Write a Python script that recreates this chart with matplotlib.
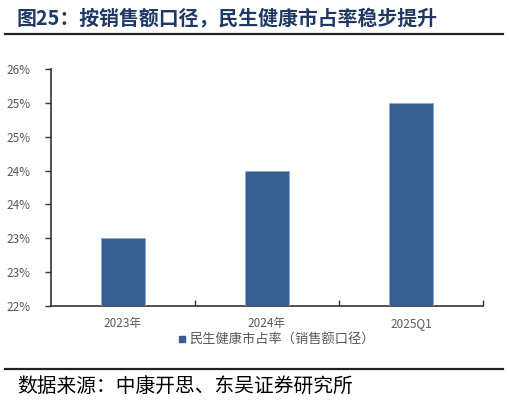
import matplotlib
matplotlib.use('Agg')
import matplotlib.pyplot as plt
from matplotlib.ticker import FuncFormatter, MultipleLocator
from matplotlib.lines import Line2D

plt.rcParams['font.family'] = ['Noto Sans CJK SC', 'DejaVu Sans']

# 数据
categories = ['2023年', '2024年', '2025Q1']
share = [23.0, 24.0, 25.0]
series_name = '民生健康市占率（销售额口径）'
title = '图25：按销售额口径，民生健康市占率稳步提升'
source = '数据来源：中康开思、东吴证券研究所'

bar_color = '#375d91'
grey = '#595959'

fig = plt.figure(figsize=(5.09, 4.03), dpi=100)
ax = fig.add_axes([51 / 509, 1 - 306 / 403, 432 / 509, 237 / 403])

x = range(len(categories))
ax.bar(x, share, width=0.31, color=bar_color, edgecolor='#8eaad6', linewidth=0.6,
       bottom=0, zorder=3)

ax.set_ylim(22, 25.5)
ax.set_xlim(-0.5, len(categories) - 0.5)
ax.yaxis.set_major_locator(MultipleLocator(0.5))
# Excel 风格四舍五入
ax.yaxis.set_major_formatter(FuncFormatter(lambda v, p: f'{int(v + 0.5 + 1e-9)}%'))

ax.set_xticks(list(x))
ax.set_xticklabels(categories)
ax.set_xticks([i + 0.5 for i in x], minor=True)
ax.tick_params(axis='x', which='major', length=0, pad=8, labelsize=8.5, colors=grey)
ax.tick_params(axis='x', which='minor', direction='in', length=4, width=1, color='#333333')
ax.tick_params(axis='y', direction='out', length=4, width=1, color='#333333',
               labelsize=8.5, labelcolor=grey, pad=11)

for s in ['top', 'right']:
    ax.spines[s].set_visible(False)
for s in ['left', 'bottom']:
    ax.spines[s].set_color('#333333')
    ax.spines[s].set_linewidth(1.2)

# 图例
handle = Line2D([], [], marker='s', linestyle='none', color=bar_color, markersize=5)
fig.legend([handle], [series_name], loc='center', bbox_to_anchor=(275 / 509, 1 - 340 / 403),
           frameon=False, fontsize=9.5, handletextpad=0.0, handlelength=1.0,
           labelcolor=grey)

# 标题与来源
fig.text(17 / 509, 1 - 18 / 403, title, fontsize=14.3, fontweight='bold', color='#1f3864',
         va='center', ha='left')
fig.add_artist(Line2D([5 / 509, 503 / 509], [1 - 34 / 403] * 2, color='#222222', linewidth=1.6))
fig.add_artist(Line2D([5 / 509, 503 / 509], [1 - 369 / 403] * 2, color='#222222', linewidth=1.6))
fig.text(17 / 509, 1 - 387 / 403, source, fontsize=14.2, color='black', va='center', ha='left')

fig.savefig('out.png', dpi=100)
